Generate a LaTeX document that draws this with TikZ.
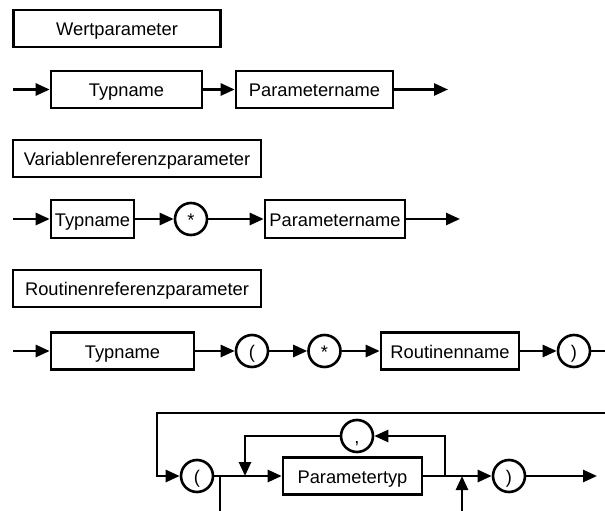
\documentclass[tikz,border=0pt]{standalone}
\usepackage{fontspec}
\setmainfont{Liberation Sans}
\usetikzlibrary{arrows.meta}
\begin{document}
\begin{tikzpicture}[x=1pt,y=-1pt,
  font=\fontsize{18.3}{22}\selectfont,
  box/.style={draw,line width=2.6pt,inner sep=0pt,minimum height=37pt,text height=14pt,text depth=0pt},
  circ/.style={draw,circle,line width=2.6pt,inner sep=0pt,minimum size=32pt,text height=14pt,text depth=0pt},
  con/.style={line width=2.6pt,-{Triangle[length=14pt,width=12pt]}},
  ln/.style={line width=2.6pt}]
\useasboundingbox (0,0) rectangle (605,511);
% headings
\node[box,minimum width=207pt] (wp) at (117,28.5) {Wertparameter};
\node[box,minimum width=248pt] (vp) at (137,158.5) {Variablenreferenzparameter};
\node[box,minimum width=248pt] (rp) at (137,288.5) {Routinenreferenzparameter};
% row 1
\coordinate (s1) at (13,89.5);
\node[box,minimum width=151pt] (t1) at (126.5,89.5) {Typname};
\node[box,minimum width=157pt] (p1) at (314.5,89.5) {Parametername};
\coordinate (e1) at (448,89.5);
\draw[con] (s1) -- (t1);
\draw[con] (t1) -- (p1);
\draw[con] (p1) -- (e1);
% row 2
\coordinate (s2) at (13,219);
\node[box,minimum width=83pt,minimum height=38pt] (t2) at (92.5,219) {Typname};
\node[circ] (st2) at (191,219) {*};
\node[box,minimum width=140pt,minimum height=38pt] (p2) at (335,219) {Parametername};
\coordinate (e2) at (460,219);
\draw[con] (s2) -- (t2);
\draw[con] (t2) -- (st2);
\draw[con] (st2) -- (p2);
\draw[con] (p2) -- (e2);
% row 3
\coordinate (s3) at (13,351);
\node[box,minimum width=143pt] (t3) at (122.5,351) {Typname};
\node[circ] (lp3) at (252,351) {(};
\node[circ] (st3) at (324.5,351) {*};
\node[box,minimum width=138pt] (rn) at (450,351) {Routinenname};
\node[circ] (rp3) at (574,351) {)};
\coordinate (e3) at (605,351);
\draw[con] (s3) -- (t3);
\draw[con] (t3) -- (lp3);
\draw[con] (lp3) -- (st3);
\draw[con] (st3) -- (rn);
\draw[con] (rn) -- (rp3);
\draw[ln] (rp3) -- (e3);
% row 4
\coordinate (l0) at (605,413);
\coordinate (l1) at (157,413);
\node[circ] (lp4) at (197,476) {(};
\node[box,minimum width=139pt] (pt) at (352.5,476) {Parametertyp};
\node[circ] (cm) at (357,436) {,};
\node[circ] (rp4) at (509,476) {)};
\coordinate (e4) at (597,476);
\coordinate (j1) at (220,476);
\coordinate (jd1) at (220,511);
\coordinate (j2) at (245,476);
\coordinate (j3) at (445,476);
\coordinate (j4) at (462,476);
\coordinate (jd4) at (462,511);
\draw[con] (l0) -- (l1) |- (lp4);
\draw[con] (lp4) -- (pt);
\draw[ln] (j1) -- (jd1);
\draw[con] (pt) -- (rp4);
\draw[con] (j3) |- (cm);
\draw[con] (cm) -| (j2);
\draw[con] (jd4) -- (j4);
\draw[con] (rp4) -- (e4);
\end{tikzpicture}
\end{document}
